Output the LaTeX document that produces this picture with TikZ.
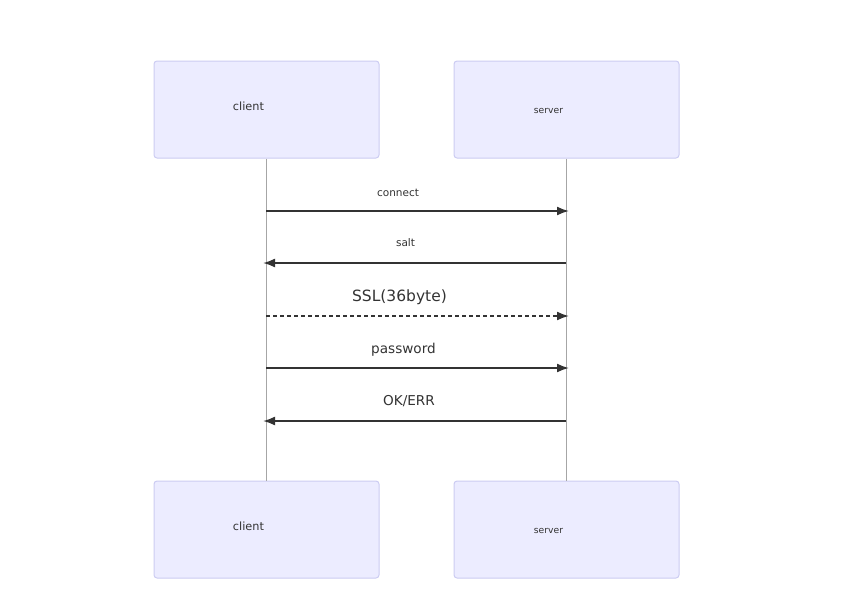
\documentclass[tikz,border=0pt]{standalone}
\usepackage{fontspec}
\setmainfont{DejaVu Sans}
\usetikzlibrary{arrows.meta,positioning,calc}
\definecolor{actorfill}{HTML}{ECECFF}
\definecolor{actorline}{HTML}{CCCCF2}
\definecolor{msgline}{HTML}{333333}
\tikzset{
  % actor boxes at the top and bottom of each lifeline
  actor/.style={draw=actorline, fill=actorfill, rectangle, rounded corners=3pt,
  line width=1pt, minimum width=225pt, minimum height=97pt},
  life/.style={draw=gray!70, line width=0.6pt},
  msg/.style={draw=msgline, line width=1.8pt},
  lbl/.style={text=black!80, inner sep=0pt}}

\begin{document}
\begin{tikzpicture}[x=1pt, y=-1pt,
    >={Latex[length=12pt,width=9pt]}, % filled message tips
    ]
\useasboundingbox (0,0) rectangle (844,613);

\node (clienttop) [actor] at (266.5,109.5) {};
\node (servertop) [actor] at (566.5,109.5) {};
\node (clientbot) [actor] at (266.5,529.5) {};
\node (serverbot) [actor] at (566.5,529.5) {};

\node [lbl, font=\fontsize{11.3}{12}\selectfont] at (248.5,106.5) {client};
\node [lbl, font=\fontsize{9.2}{10}\selectfont] at (548.5,110.5) {server};
\node [lbl, font=\fontsize{11.3}{12}\selectfont] at (248.5,526.5) {client};
\node [lbl, font=\fontsize{9.2}{10}\selectfont] at (548.5,530.5) {server};

% lifelines
\draw [life] (clienttop.south) -- (clientbot.north);
\draw [life] (servertop.south) -- (serverbot.north);

% message rows
\coordinate (c1) at (266,211); \coordinate (s1) at (569,211);
\coordinate (c2) at (263,263); \coordinate (s2) at (566,263);
\coordinate (c3) at (266,316); \coordinate (s3) at (569,316);
\coordinate (c4) at (266,368); \coordinate (s4) at (569,368);
\coordinate (c5) at (263,421); \coordinate (s5) at (566,421);

\draw [msg, ->] (c1) -- (s1);
\draw [msg, ->] (s2) -- (c2);
\draw [msg, ->, dash pattern=on 4pt off 3pt] (c3) -- (s3);
\draw [msg, ->] (c4) -- (s4);
\draw [msg, ->] (s5) -- (c5);

\node [lbl, font=\fontsize{10.5}{12}\selectfont] at (398,192.5) {connect};
\node [lbl, font=\fontsize{10.5}{12}\selectfont] at (405.5,242.5) {salt};
\node [lbl, font=\fontsize{15.5}{17}\selectfont] at (399.5,297.5) {SSL(36byte)};
\node [lbl, font=\fontsize{13.6}{15}\selectfont] at (403.5,349.5) {password};
\node [lbl, font=\fontsize{13.6}{15}\selectfont] at (409,401.5) {OK/ERR};

\end{tikzpicture}
\end{document}
